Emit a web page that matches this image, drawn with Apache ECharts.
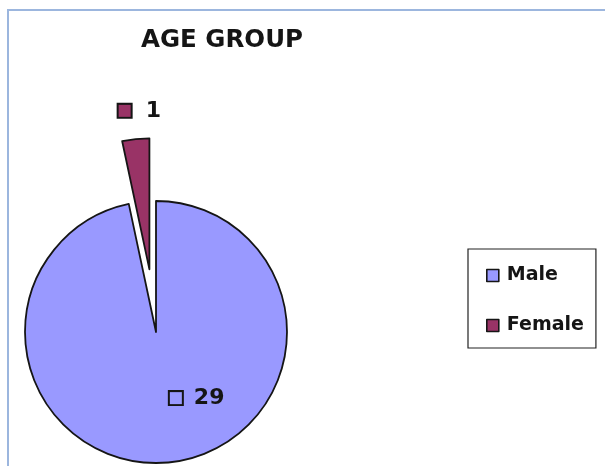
<!DOCTYPE html>
<html>
<head>
<meta charset="utf-8">
<script src="https://cdn.jsdelivr.net/npm/echarts@6/dist/echarts.min.js"></script>
<style>
  html, body { margin: 0; padding: 0; background: #fff; }
  #chart { width: 605px; height: 466px; }
</style>
</head>
<body>
<div id="chart"></div>
<script>
// Age group breakdown by sex
const categories = ['Male', 'Female'];
const counts = [29, 1];
const colors = ['#9999ff', '#993366'];
const titleText = 'AGE GROUP';

const FONT = '"DejaVu Sans", sans-serif';

const chart = echarts.init(document.getElementById('chart'));

// Shift of each value label away from its default inside spot
const labelOffsets = [[34, -2], [4, -93]];

function sliceLabel(i) {
  return {
    show: true,
    position: 'inside',
    offset: labelOffsets[i],
    formatter: '{box|}{gap|}{v|{c}}',
    rich: {
      box: {
        width: 12,
        height: 12,
        backgroundColor: colors[i],
        borderColor: '#151515',
        borderWidth: 2
      },
      gap: { width: i === 1 ? 15 : 12 },
      v: { fontFamily: FONT, fontWeight: 'bold', fontSize: 22, color: '#151515' }
    }
  };
}

const pieData = categories.map((name, i) => ({
  name: name,
  value: counts[i],
  selected: i === 1,
  itemStyle: { color: colors[i] },
  label: sliceLabel(i),
  select: { label: sliceLabel(i) }
}));

chart.setOption({
  animation: false,
  title: {
    text: titleText,
    left: 136,
    top: 23,
    textStyle: { fontFamily: FONT, fontWeight: 'bold', fontSize: 24.5, color: '#151515' }
  },
  legend: {
    orient: 'vertical',
    left: 468,
    top: 249,
    padding: [17, 12, 13, 18],
    itemGap: 31,
    itemWidth: 12,
    itemHeight: 12,
    borderColor: '#222',
    borderWidth: 1.2,
    icon: 'rect',
    itemStyle: { borderColor: '#151515', borderWidth: 1.6 },
    textStyle: { fontFamily: FONT, fontWeight: 'bold', fontSize: 19, color: '#151515', padding: [0, 0, 0, 3] },
    data: categories
  },
  graphic: [{
    type: 'polyline',
    silent: true,
    shape: { points: [[8, 480], [8, 10], [620, 10]] },
    style: { stroke: '#9cb6de', lineWidth: 2, fill: null }
  }],
  series: [{
    type: 'pie',
    center: [156, 332],
    radius: 131,
    startAngle: 90,
    clockwise: true,
    selectedMode: 'single',
    selectedOffset: 63,
    itemStyle: { borderColor: '#151515', borderWidth: 1.8 },
    emphasis: { disabled: true },
    labelLine: { show: false },
    data: pieData
  }]
});
</script>
</body>
</html>
